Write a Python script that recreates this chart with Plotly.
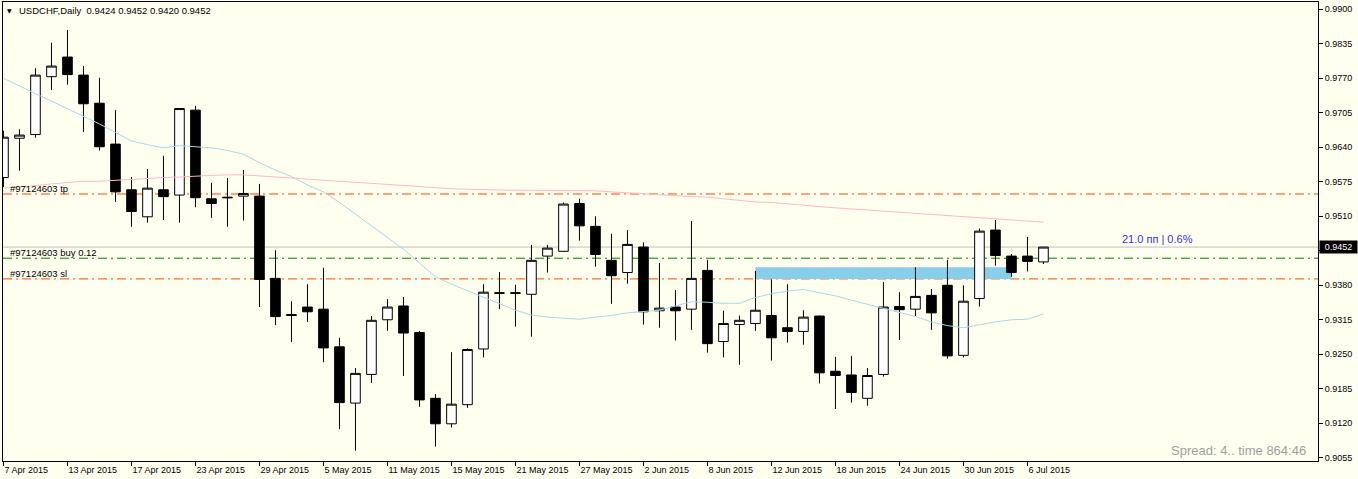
import plotly.graph_objects as go
import pandas as pd

# ---- data -------------------------------------------------------------
dates = pd.bdate_range("2015-04-07", "2015-07-07")
labels = [f"{d.day} {d.strftime('%b %Y')}" for d in dates]

opens = [0.9583, 0.9657, 0.9664, 0.9773, 0.9810, 0.9776, 0.9723, 0.9646, 0.9560, 0.9509,
         0.9560, 0.9550, 0.9710, 0.9543, 0.9546, 0.9548, 0.9548, 0.9393, 0.9325, 0.9339,
         0.9335, 0.9264, 0.9158, 0.9212, 0.9315, 0.9341, 0.9291, 0.9167, 0.9119, 0.9155,
         0.9260, 0.9366, 0.9366, 0.9363, 0.9435, 0.9444, 0.9534, 0.9491, 0.9427, 0.9404,
         0.9452, 0.9332, 0.9339, 0.9335, 0.9408, 0.9274, 0.9306, 0.9308, 0.9323, 0.9300,
         0.9293, 0.9322, 0.9218, 0.9211, 0.9167, 0.9212, 0.9340, 0.9335, 0.9361, 0.9380,
         0.9248, 0.9355, 0.9484, 0.9435, 0.9435, 0.9424]
highs = [0.9671, 0.9674, 0.9789, 0.9837, 0.9861, 0.9793, 0.9771, 0.9710, 0.9584, 0.9599,
         0.9624, 0.9713, 0.9718, 0.9573, 0.9582, 0.9597, 0.9571, 0.9446, 0.9350, 0.9382,
         0.9413, 0.9281, 0.9224, 0.9322, 0.9354, 0.9358, 0.9294, 0.9175, 0.9254, 0.9261,
         0.9382, 0.9405, 0.9381, 0.9456, 0.9456, 0.9536, 0.9543, 0.9510, 0.9477, 0.9484,
         0.9461, 0.9422, 0.9371, 0.9501, 0.9428, 0.9332, 0.9323, 0.9407, 0.9391, 0.9382,
         0.9333, 0.9323, 0.9245, 0.9247, 0.9224, 0.9386, 0.9367, 0.9414, 0.9373, 0.9428,
         0.9380, 0.9487, 0.9503, 0.9439, 0.9471, 0.9452]
lows = [0.9565, 0.9596, 0.9658, 0.9748, 0.9758, 0.9669, 0.9634, 0.9537, 0.9490, 0.9498,
        0.9503, 0.9498, 0.9527, 0.9507, 0.9490, 0.9502, 0.9339, 0.9305, 0.9273, 0.9311,
        0.9235, 0.9109, 0.9068, 0.9196, 0.9294, 0.9209, 0.9151, 0.9076, 0.9112, 0.9149,
        0.9244, 0.9335, 0.9302, 0.9283, 0.9404, 0.9443, 0.9464, 0.9415, 0.9345, 0.9383,
        0.9306, 0.9300, 0.9276, 0.9296, 0.9253, 0.9244, 0.9230, 0.9294, 0.9238, 0.9272,
        0.9268, 0.9195, 0.9147, 0.9159, 0.9153, 0.9208, 0.9277, 0.9322, 0.9296, 0.9242,
        0.9244, 0.9340, 0.9417, 0.9396, 0.9406, 0.9420]
closes = [0.9659, 0.9663, 0.9776, 0.9793, 0.9777, 0.9722, 0.9641, 0.9556, 0.9519, 0.9563,
          0.9547, 0.9713, 0.9545, 0.9534, 0.9545, 0.9553, 0.9391, 0.9321, 0.9323, 0.9330,
          0.9262, 0.9159, 0.9214, 0.9314, 0.9339, 0.9290, 0.9164, 0.9119, 0.9156, 0.9259,
          0.9367, 0.9365, 0.9365, 0.9427, 0.9450, 0.9533, 0.9492, 0.9438, 0.9398, 0.9457,
          0.9330, 0.9337, 0.9332, 0.9393, 0.9270, 0.9308, 0.9314, 0.9333, 0.9281, 0.9293,
          0.9320, 0.9215, 0.9210, 0.9178, 0.9210, 0.9339, 0.9334, 0.9359, 0.9328, 0.9247,
          0.9350, 0.9482, 0.9436, 0.9404, 0.9425, 0.9452]

ma_fast = [0.9770, 0.9755, 0.9741, 0.9727, 0.9713, 0.9699, 0.9684, 0.9668, 0.9652, 0.9645,
           0.9639, 0.9643, 0.9641, 0.9639, 0.9634, 0.9627, 0.9611, 0.9597, 0.9585, 0.9569,
           0.9556, 0.9536, 0.9514, 0.9492, 0.9470, 0.9448, 0.9422, 0.9396, 0.9382, 0.9370,
           0.9357, 0.9345, 0.9333, 0.9324, 0.9320, 0.9318, 0.9316, 0.9320, 0.9323, 0.9328,
           0.9330, 0.9333, 0.9341, 0.9349, 0.9348, 0.9346, 0.9346, 0.9357, 0.9364, 0.9369,
           0.9372, 0.9366, 0.9360, 0.9352, 0.9344, 0.9336, 0.9328, 0.9321, 0.9311, 0.9304,
           0.9300, 0.9306, 0.9311, 0.9315, 0.9316, 0.9326]
ma_slow = [0.9563, 0.9565, 0.9568, 0.9571, 0.9574, 0.9576, 0.9576, 0.9578, 0.9580, 0.9582,
           0.9583, 0.9584, 0.9586, 0.9587, 0.9588, 0.9588, 0.9586, 0.9584, 0.9582, 0.9579,
           0.9577, 0.9576, 0.9574, 0.9572, 0.9570, 0.9568, 0.9566, 0.9564, 0.9562, 0.9561,
           0.9560, 0.9560, 0.9559, 0.9559, 0.9559, 0.9559, 0.9558, 0.9558, 0.9556, 0.9554,
           0.9552, 0.9551, 0.9549, 0.9547, 0.9546, 0.9543, 0.9540, 0.9537, 0.9536, 0.9534,
           0.9531, 0.9528, 0.9526, 0.9523, 0.9522, 0.9520, 0.9517, 0.9515, 0.9513, 0.9511,
           0.9510, 0.9508, 0.9506, 0.9504, 0.9501, 0.9499]

y_ticks = [0.9055, 0.9120, 0.9185, 0.9250, 0.9315, 0.9380, 0.9445,
           0.9510, 0.9575, 0.9640, 0.9705, 0.9770, 0.9835, 0.9900]

tp_price = 0.9552
entry_price = 0.9431
sl_price = 0.9392
bid_price = 0.9452
zone_low, zone_high = 0.9392, 0.9414
zone_first_bar, zone_last_bar = 47, 63
order_label = "#97124603"
profit_text = "21.0 пп | 0.6%"
title_text = "USDCHF,Daily  0.9424 0.9452 0.9420 0.9452"
spread_text = "Spread: 4.. time 864:46"

# ---- figure -----------------------------------------------------------
x = list(range(len(opens)))
FONT = "Liberation Sans, Arial, sans-serif"
BG = "#FFFFF0"
DASHDOT = "9px,4px,2px,4px"

# tick labels; the one hidden behind the bid-price box is left blank
y_ticktext = ["" if abs(v - bid_price) < 0.0010 else f"{v:.4f}" for v in y_ticks]

fig = go.Figure()
fig.add_trace(go.Candlestick(
    x=x, open=opens, high=highs, low=lows, close=closes,
    increasing=dict(fillcolor="white", line=dict(color="black", width=1)),
    decreasing=dict(fillcolor="black", line=dict(color="black", width=1)),
    whiskerwidth=0, hoverinfo="skip", showlegend=False,
))
fig.add_trace(go.Scatter(x=x, y=ma_fast, mode="lines",
                         line=dict(color="#A8D8E8", width=1), hoverinfo="skip"))
fig.add_trace(go.Scatter(x=x, y=ma_slow, mode="lines",
                         line=dict(color="#FFB8C4", width=1), hoverinfo="skip"))

# zone rectangle
fig.add_shape(type="rect", xref="x", yref="y",
              x0=zone_first_bar, x1=zone_last_bar, y0=zone_low, y1=zone_high,
              fillcolor="#87CEEB", line=dict(width=0), layer="below")
# horizontal order lines
fig.add_shape(type="line", xref="paper", yref="y", x0=0, x1=1, y0=bid_price, y1=bid_price,
              line=dict(color="#C0C0C0", width=1), layer="below")
for price, col in [(tp_price, "#FF4500"), (entry_price, "#008000"), (sl_price, "#FF4500")]:
    fig.add_shape(type="line", xref="paper", yref="y", x0=0, x1=1, y0=price, y1=price,
                  line=dict(color=col, width=1, dash=DASHDOT), layer="below")

ann = []
for price, txt in [(tp_price, order_label + " tp"),
                   (entry_price, order_label + " buy 0.12"),
                   (sl_price, order_label + " sl")]:
    ann.append(dict(xref="paper", yref="y", x=0.0046, y=price, text=txt,
                    xanchor="left", yanchor="bottom", showarrow=False, borderpad=0,
                    yshift=-1, font=dict(family=FONT, size=9.5, color="black")))
ann.append(dict(xref="x", yref="y", x=72.1, y=bid_price, text=profit_text,
                xanchor="center", yanchor="bottom", showarrow=False, borderpad=0, yshift=1,
                font=dict(family=FONT, size=11, color="#3030F0")))
ann.append(dict(xref="paper", yref="paper", x=0.0114, y=0.9804, text=title_text,
                xanchor="left", yanchor="middle", showarrow=False, borderpad=0,
                font=dict(family=FONT, size=9.5, color="black")))
ann.append(dict(xref="paper", yref="paper", x=0.0025, y=0.9804, text="▼",
                xanchor="left", yanchor="middle", showarrow=False, borderpad=0,
                font=dict(family="DejaVu Sans", size=6, color="black")))
ann.append(dict(xref="paper", yref="paper", x=0.9916, y=0.0218, text=spread_text,
                xanchor="right", yanchor="middle", showarrow=False, borderpad=0,
                font=dict(family=FONT, size=13, color="#A0A0A0")))
ann.append(dict(xref="paper", yref="y", x=1, y=bid_price, text=f"{bid_price:.4f}",
                xanchor="left", yanchor="middle", showarrow=False, borderpad=0,
                width=37, height=12, align="center", xshift=1,
                bgcolor="black", font=dict(family=FONT, size=9, color="white")))

fig.update_layout(
    width=1358, height=479,
    margin=dict(l=3, r=40, t=2, b=18, pad=0),
    paper_bgcolor=BG, plot_bgcolor=BG,
    showlegend=False, boxgap=0.4, boxgroupgap=0,
    font=dict(family=FONT, size=9, color="black"),
    annotations=ann,
    xaxis=dict(range=[-0.03, 82.16], tickmode="array",
               tickvals=x[::4], ticktext=labels[::4],
               ticks="outside", ticklen=4, tickcolor="black",
               ticklabelposition="outside right",
               showline=True, linecolor="black", linewidth=1, mirror=True,
               showgrid=False, zeroline=False, rangeslider=dict(visible=False),
               fixedrange=True),
    yaxis=dict(side="right", range=[0.90489, 0.991375], tickmode="array",
               tickvals=y_ticks, ticktext=y_ticktext,
               ticks="outside", ticklen=4, tickcolor="black",
               showline=True, linecolor="black", linewidth=1, mirror=True,
               showgrid=False, zeroline=False, fixedrange=True),
)

fig.write_html("out.html", config={"displayModeBar": False})
